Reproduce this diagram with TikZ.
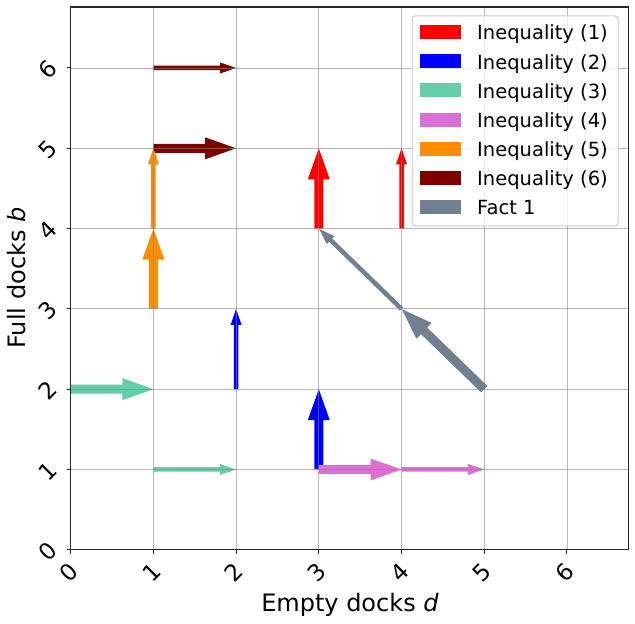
\documentclass[tikz,border=0pt]{standalone}
\usepackage{fontspec}
\setmainfont{DejaVu Sans}
\usetikzlibrary{calc}
\definecolor{maq}{HTML}{66CDAA}
\definecolor{orch}{HTML}{DA70D6}
\definecolor{dorange}{HTML}{FF8C00}
\definecolor{mar}{HTML}{800000}
\definecolor{sgray}{HTML}{708090}
\definecolor{gridc}{RGB}{135,135,135}
\definecolor{legedge}{HTML}{CCCCCC}
\newcommand{\plarrow}[6]{%
  \path let \p1=(#1), \p2=(#2) in \pgfextra{%
    \pgfmathsetmacro\plA{atan2(\y2-\y1,\x2-\x1)}%
    \pgfmathsetmacro\plL{veclen(\x2-\x1,\y2-\y1)}%
    \xdef\plAg{\plA}\xdef\plLg{\plL}};
  \pgfmathsetmacro\plB{\plLg-#6}%
  \pgfmathsetmacro\plW{#4/2}%
  \pgfmathsetmacro\plH{#5/2}%
  \fill[#3,shift={(#1)},rotate=\plAg] (0pt,-\plW pt) -- (\plB pt,-\plW pt) -- (\plB pt,-\plH pt) -- (\plLg pt,0pt) -- (\plB pt,\plH pt) -- (\plB pt,\plW pt) -- (0pt,\plW pt) -- cycle;
}
\newcommand{\widearr}[3]{\plarrow{#1}{#2}{#3}{9}{22}{31}}
\newcommand{\narrowarr}[3]{\plarrow{#1}{#2}{#3}{4.5}{11}{16}}
\begin{document}
\begin{tikzpicture}[x=82.7pt,y=80.3pt,
  gridln/.style={draw=gridc, draw opacity=0.6, line width=0.8pt},
  spine/.style={draw=black!85, line width=1.1pt},
  tickmk/.style={draw=black!85, line width=1pt},
  ticklab/.style={font=\fontsize{23}{27}\selectfont, rotate=45, inner sep=0pt},
  axlab/.style={font=\fontsize{24}{28}\selectfont, inner sep=0pt},
  legtext/.style={font=\fontsize{19.5}{23}\selectfont, anchor=base west, inner sep=0pt},
  legpatch/.style={minimum width=41pt, minimum height=14pt, inner sep=0pt, draw=none},
  legbox/.style={draw=legedge, line width=1pt, fill=white, fill opacity=0.8, rounded corners=3pt}]
\useasboundingbox (-70.7pt,-74.2pt) rectangle (564.3pt,549.8pt);
% data coordinates
\foreach \i in {0,...,6}{\foreach \j in {0,...,6}{\coordinate (c\i\j) at (\i,\j);}}
% arrows
\widearr{c34}{c35}{red}
\narrowarr{c44}{c45}{red}
\narrowarr{c22}{c23}{blue}
\widearr{c31}{c32}{blue}
\widearr{c02}{c12}{maq}
\narrowarr{c11}{c21}{maq}
\widearr{c31}{c41}{orch}
\narrowarr{c41}{c51}{orch}
\widearr{c15}{c25}{mar}
\narrowarr{c16}{c26}{mar}
\widearr{c13}{c14}{dorange}
\narrowarr{c14}{c15}{dorange}
\widearr{c52}{c43}{sgray}
\narrowarr{c43}{c34}{sgray}
% grid
\foreach \i in {1,...,6}{
  \draw[gridln] (\i,0) -- (\i,6.76);
  \draw[gridln] (0,\i) -- (6.74,\i);
}
% spines and ticks
\draw[spine] (0,0) rectangle (6.74,6.76);
\foreach \i in {0,...,6}{
  \draw[tickmk] (\i,0) -- ++(0,-4pt);
  \draw[tickmk] (0,\i) -- ++(-4pt,0);
  \node[ticklab] (tx\i) at ([xshift=-2pt,yshift=-22.5pt]c\i0) {\i};
  \node[ticklab] (ty\i) at ([xshift=-22.7pt,yshift=-1.5pt]c0\i) {\i};
}
% axis labels
\node[axlab] (xl) at (279.3pt,-55pt) {Empty docks \textit{d}};
\node[axlab, rotate=90] (yl) at (-53.7pt,271.8pt) {Full docks \textit{b}};
% legend
\draw[legbox] (341.3pt,323.8pt) rectangle (547.3pt,533.8pt);
\foreach \k/\c/\t [count=\n] in {517.5/red/Inequality (1), 488.4/blue/Inequality (2), 459.3/maq/Inequality (3), 430.2/orch/Inequality (4), 401.2/dorange/Inequality (5), 372.1/mar/Inequality (6), 343.0/sgray/Fact 1}{
  \node[legpatch, fill=\c] (p\n) at (369.8pt,\k pt) {};
  \node[legtext] (l\n) at (406.3pt,\k pt-7.7pt) {\t};
}
\end{tikzpicture}
\end{document}
